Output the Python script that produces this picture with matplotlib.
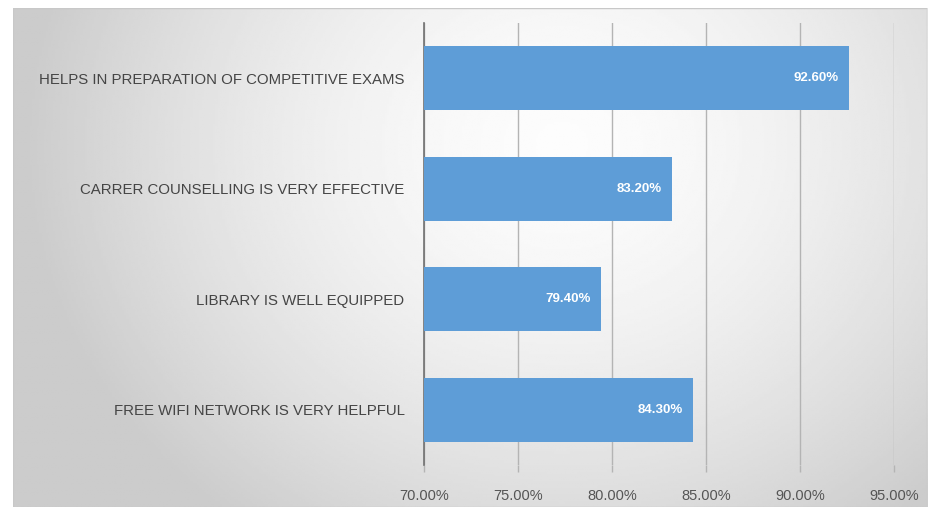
import numpy as np
import matplotlib.pyplot as plt
from matplotlib.ticker import FuncFormatter
from matplotlib.patches import Rectangle

plt.rcParams['font.family'] = ['Liberation Sans', 'DejaVu Sans']

# 调查结果数据（从下到上绘制）
labels = ['FREE WIFI NETWORK IS VERY HELPFUL',
          'LIBRARY IS WELL EQUIPPED',
          'CARRER COUNSELLING IS VERY EFFECTIVE',
          'HELPS IN PREPARATION OF COMPETITIVE EXAMS']
values = [84.30, 79.40, 83.20, 92.60]
xticks = [70, 75, 80, 85, 90, 95]

fig = plt.figure(figsize=(9.38, 5.15), dpi=100)
fig.patch.set_facecolor('white')

# 图表区背景：中间偏亮、四周偏灰的渐变
bg = fig.add_axes([13/938, 1-507/515, 914/938, 499/515], zorder=0)
gx, gy = np.meshgrid(np.linspace(-1, 1, 400), np.linspace(-1, 1, 220))
d = np.sqrt(((gx - 0.2) / 1.05) ** 2 + ((gy + 0.45) / 1.7) ** 2)
shade = np.clip(0.99 - 0.16 * d ** 1.6, 0.80, 0.99)
bg.imshow(shade, cmap='gray', vmin=0, vmax=1, aspect='auto', extent=[0, 1, 0, 1])
bg.add_patch(Rectangle((0, 0), 1, 1, transform=bg.transAxes, fill=False,
                       edgecolor='#c8c8c8', linewidth=1))
bg.set_axis_off()

ax = fig.add_axes([424/938, 1-465/515, 470/938, 442/515], zorder=1)
ax.patch.set_alpha(0)

y = np.arange(len(labels))
bars = ax.barh(y, [v - 70 for v in values], left=70, height=0.58,
               color='#5e9dd7', zorder=3)
for yi, v in zip(y, values):
    ax.text(v - 0.55, yi, f'{v:.2f}%', ha='right', va='center',
            color='white', fontsize=9.5, fontweight='bold', zorder=4)

ax.set_xlim(70, 95)
ax.set_ylim(-0.5, len(labels) - 0.5)
ax.set_xticks(xticks)
ax.xaxis.set_major_formatter(FuncFormatter(lambda v, p: f'{v:.2f}%'))
ax.set_yticks(y)
ax.set_yticklabels(labels)

ax.grid(axis='x', color='#b4b4b4', linewidth=1.0, zorder=1)
ax.tick_params(axis='x', length=5, color='#b4b4b4', width=1.0,
               labelsize=10.5, labelcolor='#555555', pad=12)
ax.tick_params(axis='y', length=0, labelsize=10.8, labelcolor='#454545', pad=14)

for s in ['top', 'right', 'bottom']:
    ax.spines[s].set_visible(False)
ax.spines['left'].set_color('#707070')
ax.spines['left'].set_linewidth(1.2)

plt.savefig('out.png', dpi=100)
